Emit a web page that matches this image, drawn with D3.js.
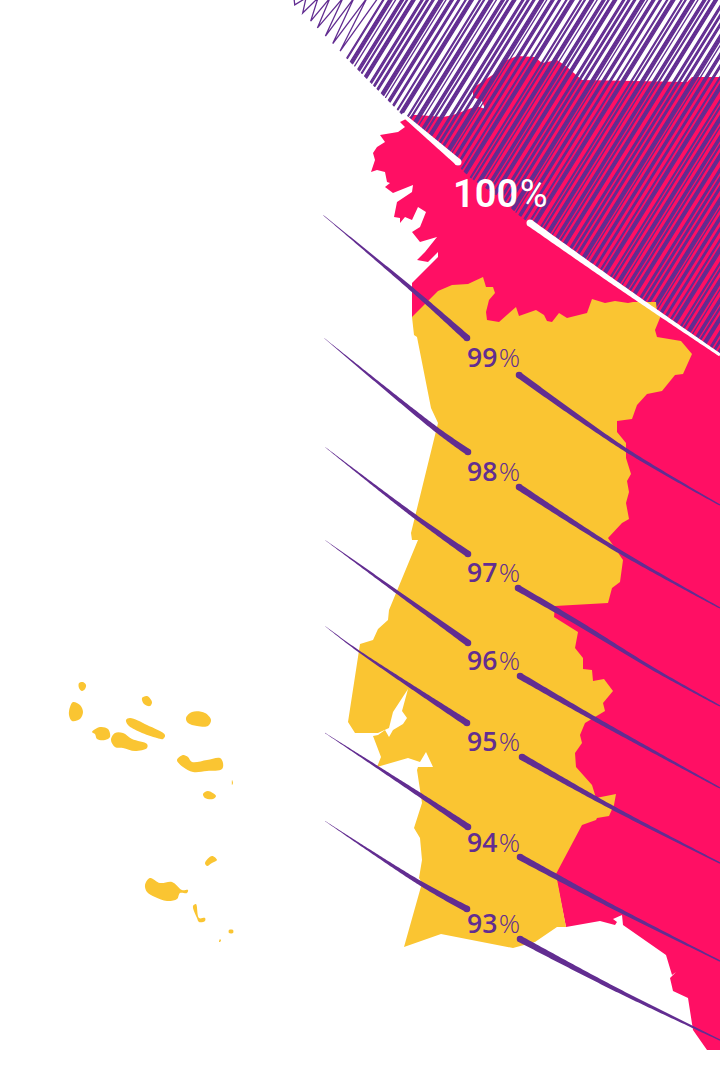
<!DOCTYPE html>
<meta charset="utf-8">
<html>
<head>
<script src="https://d3js.org/d3.v7.min.js"></script>
<style>
html, body { margin: 0; padding: 0; background: #fff; }
svg { display: block; }
</style>
</head>
<body>
<svg id="my_dataviz" width="720" height="1080"></svg>

<script>

// Isoline levels and the label spot of each one (map units)
var levels = [100, 99, 98, 97, 96, 95, 94, 93];
var labelX = [453, 467, 467, 467, 467, 467, 467, 467];
var labelY = [207, 367, 481, 582, 670, 751, 852, 933];

// Isolines: the part left of the label, the part right of it
var leftArms = [
  [[458,162],[430,138],[402,114]],
  [[467,338],[415,292],[323,215]],
  [[468,452],[437,430],[324,338]],
  [[468,554],[413,515],[325,447]],
  [[468,643],[397,592],[325,540]],
  [[467,723],[357,650],[325,626]],
  [[468,827],[420,795],[325,733]],
  [[467,909],[420,883],[325,821]]
];
var rightArms = [
  [[530,223],[625,290],[720,355]],
  [[519,375],[626,450],[720,505]],
  [[519,487],[617,550],[720,608]],
  [[518,588],[578,623],[655,670],[720,706]],
  [[520,676],[593,718],[720,788]],
  [[522,757],[613,808],[720,863]],
  [[520,857],[613,907],[720,961]],
  [[520,939],[617,990],[720,1040]]
];

// Outline of Spain, the inner part is covered by Portugal
var spain = [
  [413,115],[418,115],[443,117],[453,115],[477,106],[485,109],[482,101],[473,97],[473,88],
  [497,72],[502,62],[517,56],[535,57],[542,63],[557,60],[567,67],[582,80],[687,82],[692,77],
  [720,77],[720,1050],[707,1050],[693,1030],[688,998],[673,991],[670,978],[676,972],[672,975],
  [666,955],[623,925],[622,915],[613,919],[617,922],[615,925],[600,921],[566,927],
  [500,600],[425,325],[412,317],[412,283],[438,257],[438,252],[428,262],[417,260],[425,252],
  [437,237],[420,242],[412,232],[420,227],[426,212],[418,207],[412,220],[405,217],[400,223],
  [400,218],[394,217],[397,202],[412,192],[413,185],[393,193],[385,187],[390,183],[387,182],
  [385,172],[377,170],[371,172],[375,160],[373,153],[377,147],[385,142],[380,135],[398,132],
  [405,127],[400,122],[408,118]
];

// Outline of Portugal
var portugal = [
  [412,317],[438,291],[452,285],[468,284],[483,277],[486,287],[493,287],[495,293],[489,300],
  [486,312],[487,320],[499,322],[516,307],[519,316],[536,310],[544,315],[547,321],[552,322],
  [559,313],[567,318],[587,313],[592,299],[605,303],[615,301],[628,303],[633,302],[652,302],
  [656,302],[657,312],[662,313],[655,330],[657,337],[681,341],[692,354],[683,374],[675,375],
  [662,391],[647,394],[637,405],[632,419],[617,421],[617,432],[626,443],[626,458],[631,474],
  [627,481],[629,492],[626,503],[629,519],[622,523],[608,538],[623,560],[620,582],[612,588],
  [608,603],[555,606],[554,617],[578,632],[575,648],[583,658],[583,669],[592,670],[593,681],
  [604,679],[613,691],[603,703],[605,711],[585,723],[580,735],[582,743],[575,753],[576,767],
  [592,785],[596,798],[616,794],[614,805],[609,816],[597,818],[596,820],[582,825],[556,874],
  [566,927],[557,927],[535,942],[513,948],[441,934],[404,947],[422,883],[419,878],[422,860],
  [420,838],[414,828],[422,803],[417,770],[418,767],[433,767],[426,752],[420,762],[408,758],
  [377,767],[381,757],[373,736],[378,735],[385,730],[389,737],[393,730],[403,724],[407,718],
  [402,711],[408,689],[393,712],[389,728],[378,733],[355,733],[348,722],[360,644],[373,640],
  [378,629],[388,620],[389,610],[418,540],[412,540],[411,533],[438,423],[431,408],[417,337],
  [414,335]
];

// Azores and Madeira
var islands = [
  [[79,683],[83,682],[86,685],[85,689],[82,691],[79,688]],
  [[73,702],[80,705],[83,712],[80,719],[72,721],[69,715],[70,707]],
  [[142,698],[147,696],[152,702],[150,706],[144,704]],
  [[186,718],[192,712],[205,713],[211,720],[208,726],[197,726],[188,723]],
  [[126,720],[130,718],[147,725],[165,735],[163,739],[157,738],[140,732],[128,725]],
  [[92,732],[100,727],[108,729],[110,737],[105,740],[97,739],[95,734]],
  [[111,740],[115,733],[123,733],[132,739],[147,744],[147,748],[135,751],[123,748],[115,747]],
  [[177,760],[183,755],[188,757],[192,762],[207,760],[220,758],[223,763],[222,769],[207,771],[193,772],[183,767]],
  [[203,794],[208,791],[216,796],[213,799],[205,798]],
  [[232,780],[233,783],[232,785]],
  [[145,885],[150,878],[160,883],[172,882],[182,890],[188,890],[187,893],[180,893],[177,899],[167,901],[155,897],[147,892]],
  [[205,863],[212,856],[217,860],[212,863],[207,866]],
  [[193,906],[196,904],[199,918],[205,918],[205,921],[199,922],[197,918]],
  [[229,930],[233,930],[233,933],[229,933]],
  [[220,939],[221,941],[219,942]]
];

// Lower limit of the scribble above the 100% line
var scribbleEdge = [[288,-2],[402,114],[458,165],[470,177],[500,197],[517,213],[530,223],[720,355],[780,397]];

// Spacing of the scribble strokes at the top left, then the repeating spacing for the rest
var firstGaps = [6,5,7,6,6,7,5,6,7,6,5,7,6,6,5,6];
var gaps = [1,0.8,1,4.6,1,0.8,5.4,1,3.6,1,0.8,0.8,1,6.2,1,3,1,4.8,0.8,1,
            0.8,1,3.4,5.2,1,0.8,1,3,1,4.2,0.8,0.8,1,0.8,6,1,1,3.4,1,0.8,
            3.8,1,1,5,1,0.8,1,1,3,4.6];

var svg = d3.select("svg"),
    width = +svg.attr("width"),
    height = +svg.attr("height");

var yellow = "#fac532", pink = "#ff0f64", purple = "#622d91";

// Map units to pixels
var x = d3.scaleLinear().domain([0, 720]).range([0, width]);
var y = d3.scaleLinear().domain([0, 1080]).range([0, height]);

var outline = d3.line().x(function(d){ return x(d[0]) }).y(function(d){ return y(d[1]) });
var blob = d3.line().x(function(d){ return x(d[0]) }).y(function(d){ return y(d[1]) })
    .curve(d3.curveCatmullRomClosed);
var smooth = d3.line().x(function(d){ return x(d[0]) }).y(function(d){ return y(d[1]) })
    .curve(d3.curveCatmullRom);

// Spain goes under the scribble, Portugal over it
svg.append("path").attr("d", outline(spain) + "Z").attr("fill", pink);

// Scribble: a zigzag at the top left, then parallel strokes down to the edge
var lean = 0.62;
var edgeU = scribbleEdge.map(function(d){ return d[0] + lean * d[1] });
var edgeX = d3.scaleLinear().domain(edgeU).range(scribbleEdge.map(function(d){ return d[0] }));
var edgeY = d3.scaleLinear().domain(edgeU).range(scribbleEdge.map(function(d){ return d[1] }));

var zigzag = [], strokes = [], u = edgeU[0], i = 0;
while (u < edgeU[edgeU.length - 1]) {
  if (i < firstGaps.length) {
    if (i % 2 == 0) zigzag.push([edgeX(u), edgeY(u)]);
    else zigzag.push([u + lean * 2, -2]);
    u += firstGaps[i];
  } else {
    strokes.push([[edgeX(u), edgeY(u)], [u + lean * 2, -2]]);
    u += gaps[i % gaps.length];
  }
  i++;
}
var scribble = svg.append("g")
    .attr("fill", "none")
    .attr("stroke", purple)
    .attr("stroke-width", 1.3)
    .attr("stroke-linecap", "round");
scribble.append("path").attr("d", outline(zigzag));
scribble.selectAll(".stroke")
    .data(strokes)
    .enter()
    .append("path")
      .attr("class", "stroke")
      .attr("d", outline);

svg.append("path").attr("d", outline(portugal) + "Z").attr("fill", yellow);
svg.append("g").selectAll("path")
    .data(islands)
    .enter()
    .append("path")
      .attr("d", blob)
      .attr("fill", yellow);

// Tapered isoline: thick at the label, thin at the far end
function drawArm(pts, color, w0, w1) {
  var temp = svg.append("path").attr("d", smooth(pts)).attr("fill", "none");
  var node = temp.node(), len = node.getTotalLength(), n = 80;
  var w = d3.scaleLinear().domain([0, 1]).range([w0, w1]);
  var upper = [], lower = [];
  d3.range(n + 1).forEach(function(k){
    var t = k / n,
        p = node.getPointAtLength(t * len),
        a = node.getPointAtLength(Math.max(0, t * len - 1)),
        b = node.getPointAtLength(Math.min(len, t * len + 1)),
        dx = b.x - a.x, dy = b.y - a.y, m = Math.sqrt(dx*dx + dy*dy),
        r = w(t) / 2;
    upper.push([p.x - dy / m * r, p.y + dx / m * r]);
    lower.push([p.x + dy / m * r, p.y - dx / m * r]);
  });
  temp.remove();
  svg.append("path")
      .attr("d", d3.line()(upper.concat(lower.reverse())) + "Z")
      .attr("fill", color);
  var start = pts[0];
  svg.append("circle")
      .attr("cx", x(start[0]))
      .attr("cy", y(start[1]))
      .attr("r", w0 / 2)
      .attr("fill", color);
}

levels.forEach(function(level, j){
  var top = j == 0;
  drawArm(leftArms[j], top ? "#fff" : purple, top ? 7 : 6.5, top ? 3.5 : 0.3);
  drawArm(rightArms[j], top ? "#fff" : purple, top ? 7 : 6.5, top ? 3 : 1.4);
});

// Labels
var labels = svg.append("g").selectAll("text")
    .data(levels)
    .enter()
    .append("text")
      .attr("x", function(d, j){ return x(labelX[j]) })
      .attr("y", function(d, j){ return y(labelY[j]) })
      .attr("font-family", function(d, j){ return j == 0 ? "Roboto" : "'Open Sans'" })
      .attr("font-size", function(d, j){ return j == 0 ? 38 : 26.5 })
      .attr("fill", function(d, j){ return j == 0 ? "#fff" : purple });
labels.append("tspan").attr("font-weight", 600).text(function(d){ return d });
labels.append("tspan")
    .attr("dx", 1.5)
    .attr("font-weight", function(d, j){ return j == 0 ? 400 : 300 })
    .text("%");

</script>
</body>
</html>
